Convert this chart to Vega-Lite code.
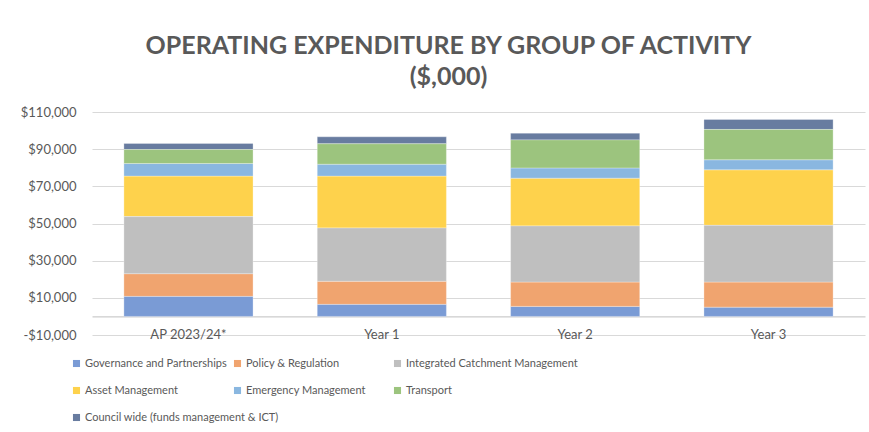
{
  "$schema": "https://vega.github.io/schema/vega-lite/v6.json",
  "autosize": "none",
  "width": 773,
  "height": 223,
  "padding": {"left": 92, "top": 112, "right": 4, "bottom": 97},
  "background": "white",
  "title": {
    "text": ["OPERATING EXPENDITURE BY GROUP OF ACTIVITY", "($,000)"],
    "font": "Lato",
    "fontSize": 25,
    "fontWeight": "bold",
    "color": "#595959",
    "anchor": "middle",
    "frame": "group",
    "dx": -30,
    "lineHeight": 31,
    "offset": 16
  },
  "data": {
    "values": [
      {"period": "AP 2023/24*", "group": "Governance and Partnerships", "k": 1, "value": 10800},
      {"period": "AP 2023/24*", "group": "Policy & Regulation", "k": 2, "value": 12200},
      {"period": "AP 2023/24*", "group": "Integrated Catchment Management", "k": 3, "value": 30700},
      {"period": "AP 2023/24*", "group": "Asset Management", "k": 4, "value": 21800},
      {"period": "AP 2023/24*", "group": "Emergency Management", "k": 5, "value": 6800},
      {"period": "AP 2023/24*", "group": "Transport", "k": 6, "value": 7500},
      {"period": "AP 2023/24*", "group": "Council wide (funds management & ICT)", "k": 7, "value": 3300},
      {"period": "Year 1", "group": "Governance and Partnerships", "k": 1, "value": 6500},
      {"period": "Year 1", "group": "Policy & Regulation", "k": 2, "value": 12400},
      {"period": "Year 1", "group": "Integrated Catchment Management", "k": 3, "value": 28700},
      {"period": "Year 1", "group": "Asset Management", "k": 4, "value": 27900},
      {"period": "Year 1", "group": "Emergency Management", "k": 5, "value": 6400},
      {"period": "Year 1", "group": "Transport", "k": 6, "value": 11000},
      {"period": "Year 1", "group": "Council wide (funds management & ICT)", "k": 7, "value": 3750},
      {"period": "Year 2", "group": "Governance and Partnerships", "k": 1, "value": 5400},
      {"period": "Year 2", "group": "Policy & Regulation", "k": 2, "value": 13100},
      {"period": "Year 2", "group": "Integrated Catchment Management", "k": 3, "value": 30200},
      {"period": "Year 2", "group": "Asset Management", "k": 4, "value": 25700},
      {"period": "Year 2", "group": "Emergency Management", "k": 5, "value": 5500},
      {"period": "Year 2", "group": "Transport", "k": 6, "value": 15100},
      {"period": "Year 2", "group": "Council wide (funds management & ICT)", "k": 7, "value": 3600},
      {"period": "Year 3", "group": "Governance and Partnerships", "k": 1, "value": 5000},
      {"period": "Year 3", "group": "Policy & Regulation", "k": 2, "value": 13500},
      {"period": "Year 3", "group": "Integrated Catchment Management", "k": 3, "value": 30500},
      {"period": "Year 3", "group": "Asset Management", "k": 4, "value": 29900},
      {"period": "Year 3", "group": "Emergency Management", "k": 5, "value": 5400},
      {"period": "Year 3", "group": "Transport", "k": 6, "value": 16300},
      {"period": "Year 3", "group": "Council wide (funds management & ICT)", "k": 7, "value": 5400}
    ]
  },
  "transform": [
    {"stack": "value", "groupby": ["period"], "sort": [{"field": "k", "order": "ascending"}], "as": ["y0", "y1"]}
  ],
  "encoding": {
    "x": {
      "field": "period",
      "type": "nominal",
      "sort": null,
      "scale": {"paddingInner": 0.332, "paddingOuter": 0.165},
      "axis": {
        "title": null,
        "labelAngle": 0,
        "offset": -18.6,
        "domainColor": "#BFBFBF",
        "domainWidth": 1,
        "ticks": false,
        "labelFont": "Lato",
        "labelFontSize": 13,
        "labelColor": "#595959",
        "labelPadding": 12
      }
    },
    "y": {
      "field": "y0",
      "type": "quantitative",
      "scale": {"domain": [-10000, 110000], "nice": false, "zero": false},
      "axis": {
        "title": null,
        "values": [-10000, 10000, 30000, 50000, 70000, 90000, 110000],
        "labelExpr": "datum.value < 0 ? '-$' + format(-datum.value, ',') : '$' + format(datum.value, ',')",
        "domain": false,
        "ticks": false,
        "gridColor": "#D9D9D9",
        "labelFont": "Lato",
        "labelFontSize": 13,
        "labelColor": "#595959",
        "labelPadding": 16
      }
    },
    "y2": {"field": "y1"}
  },
  "layer": [
    {
      "transform": [{"filter": "datum.k == 1 || datum.k == 4 || datum.k == 7"}],
      "mark": {"type": "bar", "stroke": "#ffffff", "strokeWidth": 0.5, "strokeOpacity": 0.6},
      "encoding": {
        "color": {
          "field": "group",
          "type": "nominal",
          "scale": {
            "domain": ["Governance and Partnerships", "Asset Management", "Council wide (funds management & ICT)"],
            "range": ["#7A9BD5", "#FED24C", "#687CA0"]
          },
          "legend": {"legendX": -21}
        }
      }
    },
    {
      "transform": [{"filter": "datum.k == 2 || datum.k == 5"}],
      "mark": {"type": "bar", "stroke": "#ffffff", "strokeWidth": 0.5, "strokeOpacity": 0.6},
      "encoding": {
        "color": {
          "field": "group",
          "type": "nominal",
          "scale": {
            "domain": ["Policy & Regulation", "Emergency Management"],
            "range": ["#F0A46F", "#8AB7E0"]
          },
          "legend": {"legendX": 140}
        }
      }
    },
    {
      "transform": [{"filter": "datum.k == 3 || datum.k == 6"}],
      "mark": {"type": "bar", "stroke": "#ffffff", "strokeWidth": 0.5, "strokeOpacity": 0.6},
      "encoding": {
        "color": {
          "field": "group",
          "type": "nominal",
          "scale": {
            "domain": ["Integrated Catchment Management", "Transport"],
            "range": ["#BFBFBF", "#9CC47E"]
          },
          "legend": {"legendX": 300}
        }
      }
    }
  ],
  "resolve": {"scale": {"color": "independent"}, "legend": {"color": "independent"}},
  "config": {
    "view": {"stroke": null},
    "legend": {
      "title": null,
      "orient": "none",
      "legendY": 246,
      "direction": "vertical",
      "rowPadding": 15,
      "symbolType": "square",
      "symbolSize": 50,
      "symbolStrokeWidth": 0,
      "labelFont": "Lato",
      "labelFontSize": 11,
      "labelColor": "#595959",
      "labelOffset": 3,
      "labelLimit": 300
    }
  }
}
